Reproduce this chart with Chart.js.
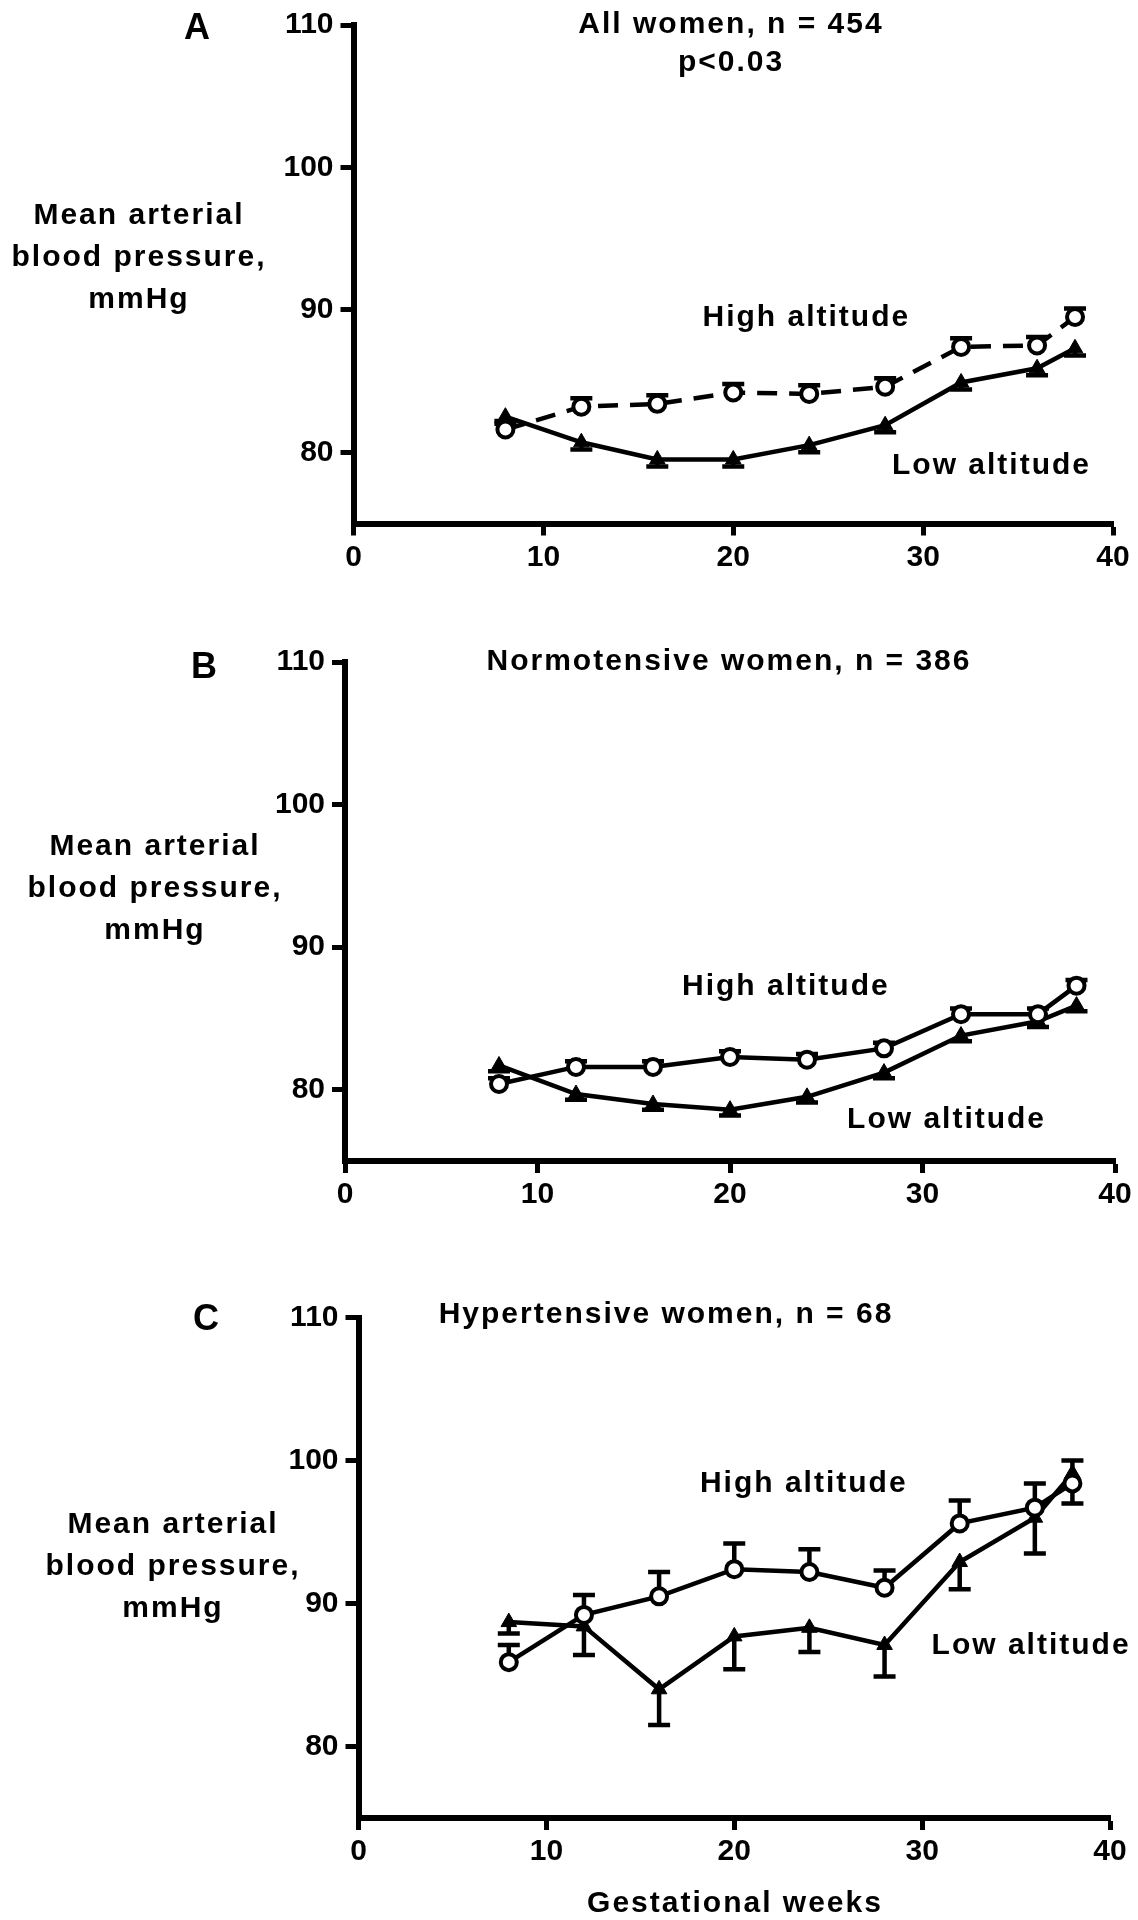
<!DOCTYPE html>
<html>
<head>
<meta charset="utf-8">
<script src="https://cdn.jsdelivr.net/npm/chart.js@4.4.1/dist/chart.umd.min.js"></script>
<style>
  body { margin: 0; background: #fff; width: 1138px; height: 1920px; position: relative; overflow: hidden;
         font-family: "Liberation Sans", Arial, sans-serif; font-weight: bold; color: #000; }
  canvas { position: absolute; left: 0; }
  .t { position: absolute; white-space: nowrap; transform: translateX(-50%); text-align: center;
       letter-spacing: 2px; font-size: 30px; line-height: 30px; }
  .ylab { line-height: 42px; }
  .letter { font-size: 36px; line-height: 36px; letter-spacing: 0; }
</style>
</head>
<body>
<canvas id="chart-a" width="1138" height="620" style="top:0px"></canvas>
<canvas id="chart-b" width="1138" height="620" style="top:620px"></canvas>
<canvas id="chart-c" width="1138" height="680" style="top:1240px"></canvas>

<!-- panel A -->
<div class="t letter" style="left:197px; top:9px">A</div>
<div class="t" style="left:731px; top:8px">All women, n = 454</div>
<div class="t" style="left:731px; top:46px">p&lt;0.03</div>
<div class="t ylab" style="left:139px; top:193px">Mean arterial<br>blood pressure,<br>mmHg</div>
<!-- panel B -->
<div class="t letter" style="left:204px; top:648px">B</div>
<div class="t" style="left:729px; top:645px">Normotensive women, n = 386</div>
<div class="t ylab" style="left:155px; top:824px">Mean arterial<br>blood pressure,<br>mmHg</div>
<!-- panel C -->
<div class="t letter" style="left:206px; top:1300px">C</div>
<div class="t" style="left:666px; top:1298px">Hypertensive women, n = 68</div>
<div class="t ylab" style="left:173px; top:1502px">Mean arterial<br>blood pressure,<br>mmHg</div>
<div class="t" style="left:735px; top:1887px">Gestational weeks</div>

<script>
// ---- data ----
const weeks = [8, 12, 16, 20, 24, 28, 32, 36, 38];
const xTicks = [0, 10, 20, 30, 40];
const yTicks = [80, 90, 100, 110];

// A: all women
const highA    = [81.6, 83.2, 83.4, 84.2, 84.1, 84.6, 87.4, 87.5, 89.5];
const highAErr = [0.6, 0.6, 0.6, 0.6, 0.6, 0.6, 0.6, 0.6, 0.6];
const lowA     = [82.5, 80.7, 79.5, 79.5, 80.5, 81.9, 84.9, 85.9, 87.3];
const lowAErr  = [0.5, 0.5, 0.5, 0.5, 0.5, 0.5, 0.5, 0.5, 0.5];

// B: normotensive women
const highB    = [80.4, 81.6, 81.6, 82.3, 82.1, 82.9, 85.3, 85.3, 87.3];
const highBErr = [0.4, 0.4, 0.4, 0.4, 0.4, 0.4, 0.4, 0.4, 0.4];
const lowB     = [81.7, 79.7, 79.0, 78.6, 79.5, 81.2, 83.8, 84.8, 85.9];
const lowBErr  = [0.4, 0.4, 0.4, 0.4, 0.4, 0.4, 0.4, 0.4, 0.4];

// C: hypertensive women
const highC    = [85.9, 89.2, 90.5, 92.4, 92.2, 91.1, 95.6, 96.7, 98.4];
const highCErr = [1.2, 1.4, 1.7, 1.8, 1.6, 1.2, 1.6, 1.7, 1.6];
const lowC     = [88.7, 88.4, 84.0, 87.7, 88.3, 87.1, 92.9, 96.0, 99.1];
const lowCErr  = [0.8, 2.0, 2.5, 2.3, 1.7, 2.2, 1.9, 2.5, 2.1];

const FONT = '"Liberation Sans", Arial, sans-serif';

function points(vals) {
  return weeks.map((w, i) => ({ x: w, y: vals[i] }));
}

// error bars: one side only (high up, low down), drawn under the markers
const errorBars = {
  id: "errorBars",
  beforeDatasetsDraw(chart) {
    const { ctx } = chart;
    const xs = chart.scales.x, ys = chart.scales.y;
    ctx.save();
    ctx.strokeStyle = "#000";
    ctx.lineWidth = 4.5;
    chart.data.datasets.forEach((ds) => {
      if (!ds.err) return;
      ds.data.forEach((p, i) => {
        const px = xs.getPixelForValue(p.x);
        const y0 = ys.getPixelForValue(p.y);
        const y1 = ys.getPixelForValue(p.y + ds.errDir * ds.err[i]);
        ctx.beginPath();
        ctx.moveTo(px, y0);
        ctx.lineTo(px, y1);
        ctx.moveTo(px - 11, y1);
        ctx.lineTo(px + 11, y1);
        ctx.stroke();
      });
    });
    ctx.restore();
  },
};

// "High altitude" / "Low altitude" labels placed in data coordinates
function makeNotes(items) {
  return {
    id: "notes",
    afterDraw(chart) {
      const { ctx } = chart;
      const xs = chart.scales.x, ys = chart.scales.y;
      ctx.save();
      ctx.font = "bold 30px " + FONT;
      ctx.fillStyle = "#000";
      ctx.textAlign = "center";
      ctx.textBaseline = "alphabetic";
      ctx.letterSpacing = "2px";
      items.forEach((n) => ctx.fillText(n.text, xs.getPixelForValue(n.x), ys.getPixelForValue(n.y)));
      ctx.restore();
    },
  };
}

function highSet(vals, err, dashed) {
  return {
    data: points(vals),
    err: err, errDir: 1,
    borderColor: "#000",
    borderWidth: 4.5,
    borderDash: dashed ? [20, 12] : [],
    pointStyle: "circle",
    pointRadius: 8,
    pointBorderWidth: 4,
    pointBackgroundColor: "#fff",
    pointBorderColor: "#000",
    tension: 0,
  };
}

function lowSet(vals, err) {
  return {
    data: points(vals),
    err: err, errDir: -1,
    borderColor: "#000",
    borderWidth: 4.5,
    pointStyle: "triangle",
    pointRadius: 9,
    pointBorderWidth: 1,
    pointBackgroundColor: "#000",
    pointBorderColor: "#000",
    tension: 0,
  };
}

function panel(canvasId, box, datasets, notes) {
  const yW = 70, xH = 60;
  const tickFont = { family: FONT, size: 30, weight: "bold" };
  new Chart(document.getElementById(canvasId), {
    type: "line",
    data: { datasets: datasets },
    plugins: [errorBars, makeNotes(notes)],
    options: {
      responsive: false,
      animation: false,
      devicePixelRatio: 1,
      clip: false,
      layout: {
        padding: {
          left: box.left - yW,
          right: 1138 - box.right,
          top: box.top - box.canvasTop,
          bottom: box.canvasH - (box.bottom - box.canvasTop) - xH,
        },
      },
      plugins: { legend: { display: false }, tooltip: { enabled: false } },
      scales: {
        x: {
          type: "linear",
          min: 0,
          max: 40,
          afterFit(s) { s.height = xH; },
          afterBuildTicks(s) { s.ticks = xTicks.map((v) => ({ value: v })); },
          ticks: { font: tickFont, color: "#000", padding: 4, maxRotation: 0 },
          grid: { drawOnChartArea: false, tickLength: 12, tickWidth: 5, tickColor: "#000" },
          border: { color: "#000", width: 6 },
        },
        y: {
          type: "linear",
          min: 75,
          max: 110,
          afterFit(s) { s.width = yW; },
          afterBuildTicks(s) { s.ticks = yTicks.map((v) => ({ value: v })); },
          ticks: { font: tickFont, color: "#000", padding: 7 },
          grid: { drawOnChartArea: false, tickLength: 13, tickWidth: 5, tickColor: "#000" },
          border: { color: "#000", width: 6 },
        },
      },
    },
  });
}

panel("chart-a",
  { canvasTop: 0, canvasH: 620, left: 353.5, right: 1113, top: 22, bottom: 523.5 },
  [highSet(highA, highAErr, true), lowSet(lowA, lowAErr)],
  [{ text: "High altitude", x: 23.85, y: 88.85 }, { text: "Low altitude", x: 33.6, y: 78.5 }]);

panel("chart-b",
  { canvasTop: 620, canvasH: 620, left: 345, right: 1115, top: 662, bottom: 1161 },
  [highSet(highB, highBErr, false), lowSet(lowB, lowBErr)],
  [{ text: "High altitude", x: 22.9, y: 86.65 }, { text: "Low altitude", x: 31.25, y: 77.3 }]);

panel("chart-c",
  { canvasTop: 1240, canvasH: 680, left: 358.5, right: 1110, top: 1317.5, bottom: 1818 },
  [highSet(highC, highCErr, false), lowSet(lowC, lowCErr)],
  [{ text: "High altitude", x: 23.7, y: 97.8 }, { text: "Low altitude", x: 35.8, y: 86.5 }]);
</script>
</body>
</html>
